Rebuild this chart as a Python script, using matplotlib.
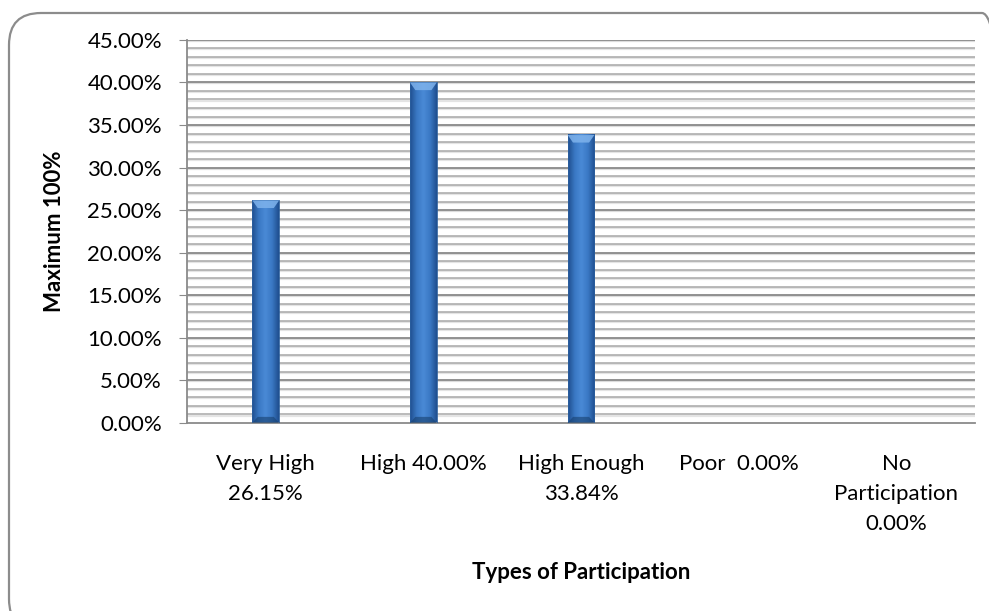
import numpy as np
import matplotlib.pyplot as plt
from matplotlib.patches import FancyBboxPatch
from matplotlib.transforms import IdentityTransform
from matplotlib.ticker import MultipleLocator, FuncFormatter
from matplotlib.colors import LinearSegmentedColormap

categories = ["Very High\n26.15%", "High 40.00%", "High Enough\n33.84%",
              "Poor  0.00%", "No\nParticipation\n0.00%"]
values = [26.15, 40.00, 33.84, 0.00, 0.00]

plt.rcParams['font.family'] = ['Lato', 'DejaVu Sans']
FS = 16

fig = plt.figure(figsize=(9.89, 6.11), dpi=100)

# rounded chart border (pixel coords, runs off the right and bottom edges)
border = FancyBboxPatch((9, -20), 1005, 618,
                        boxstyle="round,pad=0,rounding_size=32",
                        transform=IdentityTransform(), fill=False,
                        edgecolor="#8c8c8c", linewidth=1.6)
fig.patches.append(border)

ax = fig.add_axes([0.189, 0.3077, 0.797, 0.627])

x = np.arange(len(categories))
bar_w = 0.17

# grid: 1% minor, 5% major
ax.yaxis.set_major_locator(MultipleLocator(5))
ax.yaxis.set_minor_locator(MultipleLocator(1))
ax.yaxis.set_major_formatter(FuncFormatter(lambda v, p: f"{v:.2f}%"))
for v in np.arange(1, 45):
    if v % 5 == 0:
        continue
    ax.axhline(v - 0.12, color="#e4e4e4", lw=1.6, zorder=0.5)
    ax.axhline(v, color="#a8a8a8", lw=1.1, zorder=0.6)
for v in np.arange(5, 46, 5):
    ax.axhline(v - 0.12, color="#dcdcdc", lw=1.6, zorder=0.5)
    ax.axhline(v, color="#8a8a8a", lw=1.3, zorder=0.7)

# bars with a horizontal gradient and a bevelled top
cmap = LinearSegmentedColormap.from_list(
    "bar", ["#1f4f8f", "#3a78c4", "#4a8ad6", "#3a78c4", "#1f4f8f"])
grad = np.linspace(0, 1, 64).reshape(1, -1)
for xi, val in zip(x, values):
    if val <= 0:
        continue
    left = xi - bar_w / 2
    ax.imshow(grad, cmap=cmap, aspect="auto", zorder=2,
              extent=(left, left + bar_w, 0, val), interpolation="bicubic")
    ax.bar(xi, val, width=bar_w, color="none", edgecolor="#2b5f9e",
           linewidth=0.6, zorder=3)
    top = 0.9
    ax.fill([left, left + bar_w, xi + bar_w * 0.3, xi - bar_w * 0.3],
            [val, val, val - top, val - top], color="#7fb3ec", alpha=0.85,
            zorder=3, lw=0)
    ax.fill([left, left + bar_w, xi + bar_w * 0.3, xi - bar_w * 0.3],
            [0, 0, top * 0.8, top * 0.8], color="#17406f", alpha=0.6,
            zorder=3, lw=0)

ax.set_xlim(-0.5, len(categories) - 0.5)
ax.set_ylim(0, 45)
ax.set_xticks(x)
ax.set_xticklabels(categories, fontsize=FS, linespacing=1.65, va="top")
ax.tick_params(axis="x", length=0, pad=22)
ax.tick_params(axis="y", which="major", length=6, color="#8a8a8a",
               labelsize=FS, pad=12)
ax.tick_params(axis="y", which="minor", length=0)

for s in ["top", "right"]:
    ax.spines[s].set_visible(False)
for s in ["left", "bottom"]:
    ax.spines[s].set_color("#8a8a8a")
    ax.spines[s].set_linewidth(1.3)

ax.set_ylabel("Maximum 100%", fontsize=FS, fontweight="bold")
ax.yaxis.set_label_coords(-0.155, 0.5)
ax.set_xlabel("Types of Participation", fontsize=FS, fontweight="bold")
ax.xaxis.set_label_coords(0.5, (423 - 562) / 383)

fig.savefig("out.png", dpi=100)
